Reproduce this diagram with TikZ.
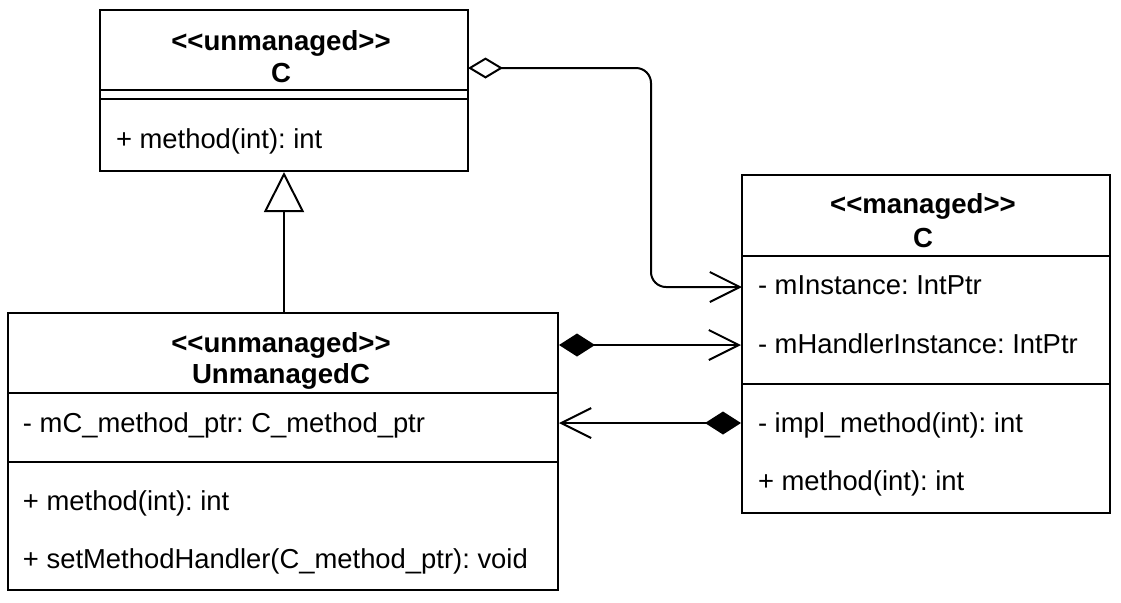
\documentclass[tikz,border=0pt]{standalone}
\usepackage{fontspec}
\setmainfont{Liberation Sans}
\usetikzlibrary{arrows.meta}
\frenchspacing
\begin{document}
\begin{tikzpicture}[x=0.5pt,y=-0.5pt, line width=1pt,
  umlbox/.style={draw, inner sep=0pt},
  txt/.style={anchor=base west, inner sep=0pt, font=\fontsize{13.7}{16}\selectfont\frenchspacing},
  ttl/.style={anchor=base, inner sep=0pt, font=\fontsize{13.8}{16}\selectfont\bfseries},
  inh/.style={-{Triangle[open,length=20pt,width=20pt]}},
  agg/.style={{Diamond[open,length=17.5pt,width=10.5pt]}-{Straight Barb[length=15pt,width=15pt]}, rounded corners=7.5pt},
  comp/.style={{Diamond[length=18pt,width=11.5pt]}-{Straight Barb[length=15pt,width=15pt]}}
]
\useasboundingbox (0,0) rectangle (1121,602);

% Box A: <<unmanaged>> C
\node[umlbox, minimum width=184pt, minimum height=80.5pt] (A) at (284,90.5) {};
\draw (100,90) -- (468,90);
\draw (100,99) -- (468,99);
\node[ttl] (At1) at (281,50) {{<}{<}unmanaged{>}{>}};
\node[ttl] (At2) at (281,82) {C};
\node[txt] (Am1) at (115,148) {+ method(int): int};

% Box B: <<unmanaged>> UnmanagedC
\node[umlbox, minimum width=275pt, minimum height=138.5pt] (B) at (283,451.5) {};
\draw (8,393) -- (558,393);
\draw (8,462) -- (558,462);
\node[ttl] (Bt1) at (281,352) {{<}{<}unmanaged{>}{>}};
\node[ttl] (Bt2) at (281,383) {UnmanagedC};
\node[txt] (Ba1) at (22,432) {- mC\_method\_ptr: C\_method\_ptr};
\node[txt] (Bm1) at (22,510) {+ method(int): int};
\node[txt] (Bm2) at (22,568) {+ setMethodHandler(C\_method\_ptr): void};

% Box M: <<managed>> C
\node[umlbox, minimum width=184pt, minimum height=169pt] (M) at (926,344) {};
\draw (742,256) -- (1110,256);
\draw (742,384) -- (1110,384);
\node[ttl] (Mt1) at (923,213) {{<}{<}managed{>}{>}};
\node[ttl] (Mt2) at (923,247) {C};
\node[txt] (Ma1) at (757,294) {- mInstance: IntPtr};
\node[txt] (Ma2) at (757,353) {- mHandlerInstance: IntPtr};
\node[txt] (Mm1) at (757,432) {- impl\_method(int): int};
\node[txt] (Mm2) at (757,490) {+ method(int): int};

% Connectors
\draw[inh] (A.south |- B.north) -- (A.south);
\coordinate (aggS) at (468,68);
\coordinate (aggE) at (742,287);
\draw[agg] (aggS) -- (651,68) |- (aggE);
\draw[comp] (B.east |- 0,345) -- (M.west |- 0,345);
\draw[comp] (M.west |- 0,423) -- (B.east |- 0,423);
\end{tikzpicture}
\end{document}
